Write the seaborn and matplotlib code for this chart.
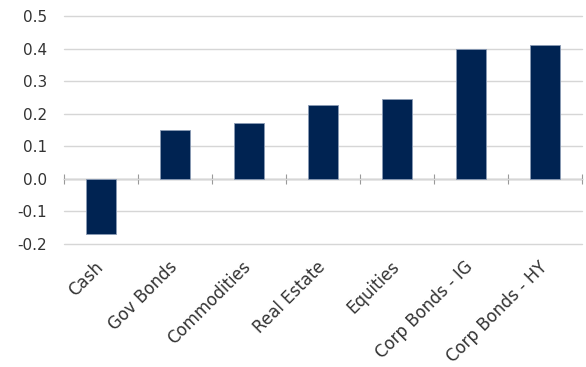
import matplotlib
matplotlib.use("Agg")
import matplotlib.pyplot as plt
import matplotlib.transforms as mtransforms
import seaborn as sns
import pandas as pd
import numpy as np

categories = ["Cash", "Gov Bonds", "Commodities", "Real Estate", "Equities",
              "Corp Bonds - IG", "Corp Bonds - HY"]
values = [-0.17, 0.15, 0.17, 0.227, 0.244, 0.40, 0.41]
yticks = [-0.2, -0.1, 0.0, 0.1, 0.2, 0.3, 0.4, 0.5]

sns.set_theme(style="white")
plt.rcParams["font.family"] = ["DejaVu Sans"]

df = pd.DataFrame({"cat": categories, "val": values})

fig = plt.figure(figsize=(5.86, 3.67), dpi=100)
ax = fig.add_axes([64/586, 1 - 244/367, (582-64)/586, (244-16)/367])

sns.barplot(data=df, x="cat", y="val", color="#002352", width=0.4,
            edgecolor="#8a9bb5", linewidth=0.6, saturation=1, ax=ax, zorder=3)

ymin, ymax = -0.2, 0.5
ax.set_ylim(ymin, ymax)
ax.set_xlim(-0.5, len(categories) - 0.5)
ax.set_yticks(yticks)
ax.set_yticklabels([f"{t:.1f}" for t in yticks], fontsize=11, color="#333333")
ax.yaxis.grid(True, color="#d6d6d6", linewidth=1.0, zorder=0)
for gl in ax.get_ygridlines():
    gl.set_clip_on(False)
ax.set_axisbelow(True)
for s in ax.spines.values():
    s.set_visible(False)
ax.tick_params(axis="y", length=0, pad=12)
ax.tick_params(axis="x", length=0, pad=8)
ax.set_xlabel("")
ax.set_ylabel("")
ax.set_xticks(range(len(categories)))
ax.set_xticklabels(categories, rotation=45, ha="right", rotation_mode="anchor",
                   fontsize=12, color="#333333")
offset = mtransforms.ScaledTranslation(-5/72, -2/72, fig.dpi_scale_trans)
for lbl in ax.get_xticklabels():
    lbl.set_transform(lbl.get_transform() + offset)

# zero axis line with category boundary ticks
zero_loc = (0 - ymin) / (ymax - ymin)
sec = ax.secondary_xaxis(zero_loc)
sec.set_xticks(np.arange(-0.5, len(categories), 1.0))
sec.set_xticklabels([])
sec.tick_params(axis="x", direction="inout", length=7, width=0.8, color="#999999")
sec.spines["bottom"].set_visible(True)
sec.spines["bottom"].set_color("#999999")
sec.spines["bottom"].set_linewidth(1.0)
for k in ["top", "left", "right"]:
    sec.spines[k].set_visible(False)

fig.savefig("out.png", dpi=100)
